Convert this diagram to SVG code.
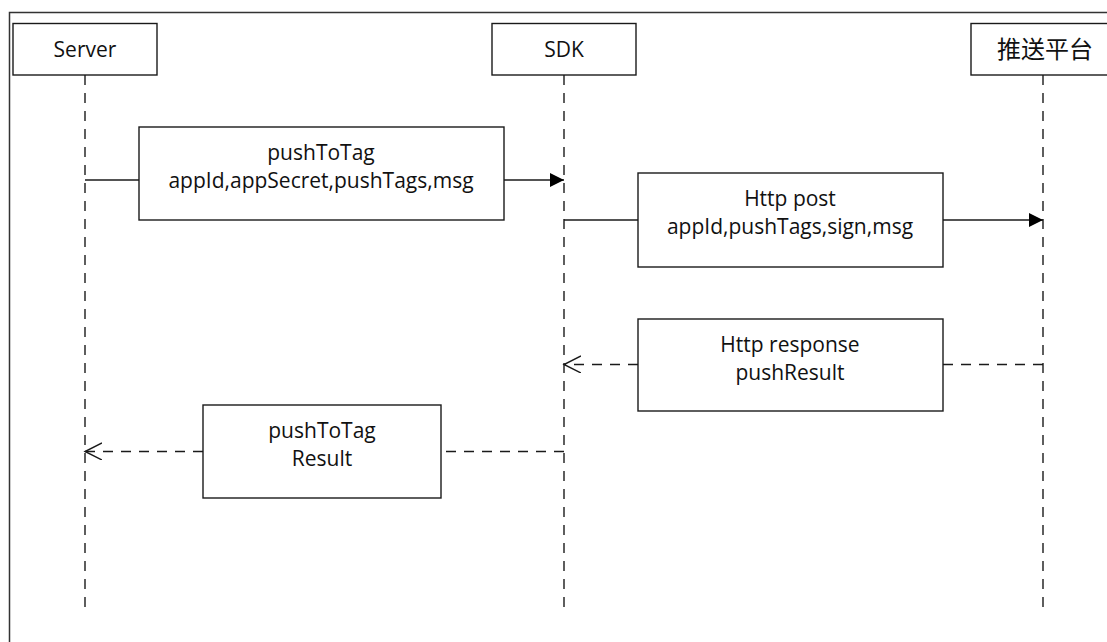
<svg xmlns="http://www.w3.org/2000/svg" width="1107" height="642" viewBox="0 0 1107 642">
<style>
.box{fill:#fff;stroke:#1a1a1a;stroke-width:1.4}
.life{fill:none;stroke:#1a1a1a;stroke-width:1.4;stroke-dasharray:10 8}
.msg{fill:none;stroke:#1a1a1a;stroke-width:1.4}
.ret{fill:none;stroke:#1a1a1a;stroke-width:1.4;stroke-dasharray:10 8}
.t{font-family:"Open Sans","Liberation Sans","Noto Sans CJK SC",sans-serif;font-size:21px;fill:#111;text-anchor:middle}
.cjk{font-family:"Noto Sans CJK SC",sans-serif;font-size:24px;fill:#111;text-anchor:middle}
</style>
<defs>
<marker id="filled" markerWidth="16" markerHeight="16" refX="14" refY="7" orient="auto" markerUnits="userSpaceOnUse">
<path d="M0,0 L14,7 L0,14 Z" fill="#000"/>
</marker>
<marker id="open" markerWidth="20" markerHeight="20" refX="17" refY="8.5" orient="auto" markerUnits="userSpaceOnUse">
<path d="M0,0 L17,8.5 L0,17" fill="none" stroke="#1a1a1a" stroke-width="1.4"/>
</marker>
</defs>
<rect x="0" y="0" width="1107" height="642" fill="#fff"/>
<rect x="9.5" y="12.5" width="1200" height="700" fill="none" stroke="#333" stroke-width="1.5"/>

<g id="lifelines">
<line class="life" x1="85" y1="75" x2="85" y2="611"/>
<line class="life" x1="564" y1="75" x2="564" y2="611"/>
<line class="life" x1="1043" y1="75" x2="1043" y2="611"/>
</g>

<g id="connectors">
<line class="msg" x1="85" y1="180" x2="139" y2="180"/>
<line class="msg" x1="504" y1="180" x2="564" y2="180" marker-end="url(#filled)"/>
<line class="msg" x1="564" y1="220" x2="638" y2="220"/>
<line class="msg" x1="943" y1="220" x2="1043" y2="220" marker-end="url(#filled)"/>
<line class="ret" x1="1043" y1="364.5" x2="943" y2="364.5"/>
<line class="ret" x1="638" y1="364.5" x2="564" y2="364.5" marker-end="url(#open)"/>
<line class="ret" x1="564" y1="451.5" x2="441" y2="451.5"/>
<line class="ret" x1="203" y1="451.5" x2="85" y2="451.5" marker-end="url(#open)"/>
</g>

<g id="node-server">
<rect class="box" x="13" y="23.5" width="144" height="51.5"/>
<text class="t" x="85" y="57">Server</text>
</g>
<g id="node-sdk">
<rect class="box" x="492" y="23.5" width="144" height="51.5"/>
<text class="t" x="564" y="57">SDK</text>
</g>
<g id="node-platform">
<rect class="box" x="971" y="23.5" width="144" height="51.5"/>
<text class="cjk" x="1045" y="58">推送平台</text>
</g>

<g id="msg-pushToTag">
<rect class="box" x="139" y="127" width="365" height="93"/>
<text class="t" x="321" y="160">pushToTag</text>
<text class="t" x="321" y="188">appId,appSecret,pushTags,msg</text>
</g>
<g id="msg-httppost">
<rect class="box" x="638" y="173" width="305" height="94"/>
<text class="t" x="790" y="206">Http post</text>
<text class="t" x="790" y="234">appId,pushTags,sign,msg</text>
</g>
<g id="msg-httpresponse">
<rect class="box" x="638" y="319" width="305" height="92"/>
<text class="t" x="790" y="352">Http response</text>
<text class="t" x="790" y="380">pushResult</text>
</g>
<g id="msg-result">
<rect class="box" x="203" y="405" width="238" height="93"/>
<text class="t" x="322" y="438">pushToTag</text>
<text class="t" x="322" y="466">Result</text>
</g>
</svg>
